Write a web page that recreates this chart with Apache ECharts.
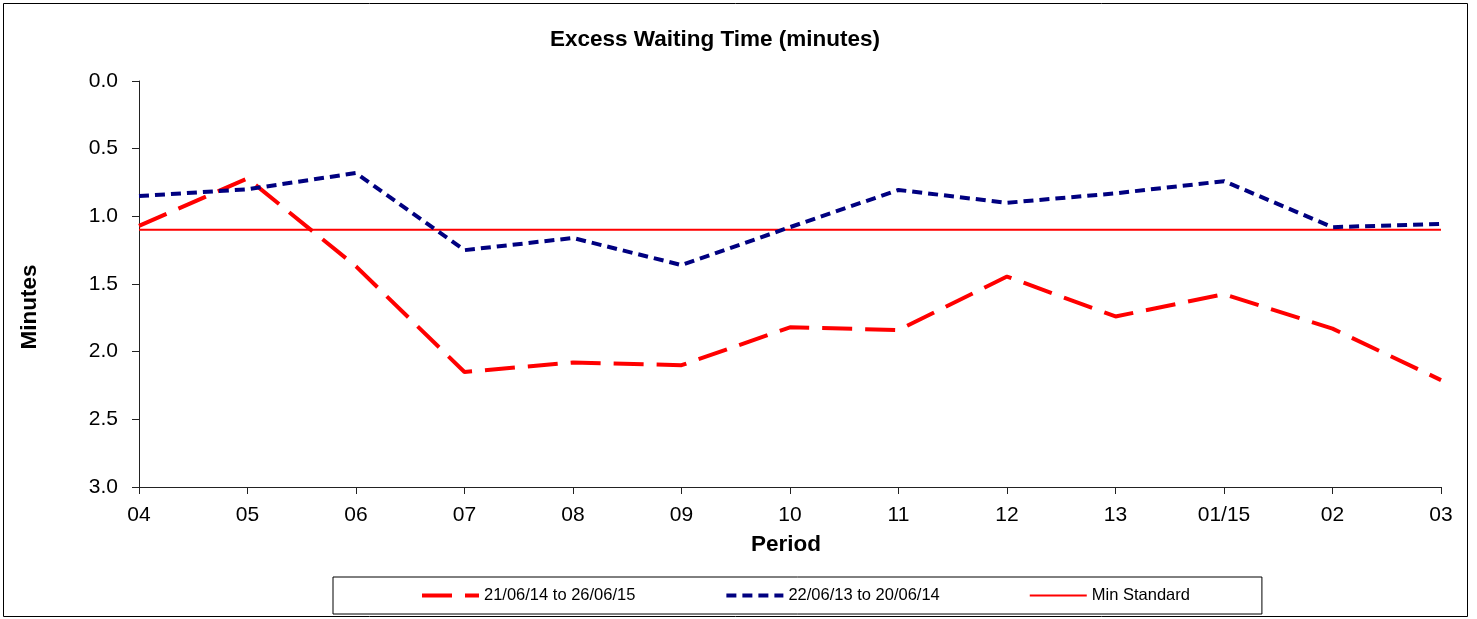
<!DOCTYPE html>
<html>
<head>
<meta charset="utf-8">
<script src="https://cdn.jsdelivr.net/npm/echarts@6/dist/echarts.min.js"></script>
<style>
html,body{margin:0;padding:0;background:#fff;}
#chart{width:1477px;height:619px;}
</style>
</head>
<body>
<div id="chart"></div>
<script>
var categories = ['04','05','06','07','08','09','10','11','12','13','01/15','02','03'];
var series2015 = [1.07, 0.72, 1.37, 2.15, 2.08, 2.10, 1.82, 1.84, 1.445, 1.74, 1.575, 1.83, 2.21];
var series2014 = [0.85, 0.80, 0.68, 1.25, 1.16, 1.36, 1.08, 0.805, 0.90, 0.83, 0.74, 1.08, 1.056];
var minStandard = [1.1, 1.1, 1.1, 1.1, 1.1, 1.1, 1.1, 1.1, 1.1, 1.1, 1.1, 1.1, 1.1];
var seriesNames = ['21/06/14 to 26/06/15', '22/06/13 to 20/06/14', 'Min Standard'];
var yTicks = {min: 0, max: 3, interval: 0.5};

var FONT = '"Liberation Sans", Arial, sans-serif';
var chart = echarts.init(document.getElementById('chart'), null, {renderer: 'canvas'});
chart.setOption({
  animation: false,
  backgroundColor: '#ffffff',
  graphic: [
    {
      type: 'rect',
      shape: {x: 3.5, y: 3.5, width: 1464, height: 613},
      style: {fill: 'none', stroke: '#000', lineWidth: 1},
      silent: true
    },
    {
      type: 'text', x: 715, y: 40, silent: true,
      style: {text: 'Excess Waiting Time (minutes)', fill: '#000',
        font: 'bold 22.5px ' + FONT, textAlign: 'center', textVerticalAlign: 'middle'}
    },
    {
      type: 'text', x: 786, y: 545, silent: true,
      style: {text: 'Period', fill: '#000',
        font: 'bold 22.5px ' + FONT, textAlign: 'center', textVerticalAlign: 'middle'}
    },
    {
      type: 'text', x: 30, y: 307, rotation: Math.PI / 2, silent: true,
      style: {text: 'Minutes', fill: '#000',
        font: 'bold 22.5px ' + FONT, textAlign: 'center', textVerticalAlign: 'middle'}
    }
  ],
  grid: {left: 139, right: 36, top: 81, bottom: 132, containLabel: false},
  legend: {
    left: 333, top: 577,
    padding: [10, 72, 10, 87],
    borderColor: '#000', borderWidth: 1,
    itemGap: 89, itemWidth: 57, itemHeight: 14,
    itemStyle: {opacity: 0},
    textStyle: {fontFamily: FONT, fontSize: 16.5, color: '#000'},
    data: [
      {name: seriesNames[0], lineStyle: {width: 4}},
      {name: seriesNames[1], lineStyle: {width: 4}},
      {name: seriesNames[2], lineStyle: {width: 2}}
    ]
  },
  xAxis: {
    type: 'category',
    data: categories,
    boundaryGap: false,
    axisLine: {onZero: false, lineStyle: {color: '#222', width: 1}},
    axisTick: {length: 7, lineStyle: {color: '#222'}},
    axisLabel: {fontFamily: FONT, fontSize: 21, color: '#000', margin: 18},
    splitLine: {show: false}
  },
  yAxis: {
    type: 'value',
    inverse: true,
    min: yTicks.min, max: yTicks.max, interval: yTicks.interval,
    axisLine: {show: true, lineStyle: {color: '#222', width: 1}},
    axisTick: {show: true, length: 7, lineStyle: {color: '#222'}},
    axisLabel: {fontFamily: FONT, fontSize: 21, color: '#000', margin: 21,
      formatter: function (v) { return v.toFixed(1); }},
    splitLine: {show: false}
  },
  series: [
    {
      name: seriesNames[0], type: 'line', data: series2015, symbol: 'none',
      lineStyle: {color: '#ff0000', width: 4, type: [30, 13]},
      itemStyle: {color: '#ff0000'}, z: 3
    },
    {
      name: seriesNames[1], type: 'line', data: series2014, symbol: 'none',
      lineStyle: {color: '#000080', width: 4, type: [10, 6]},
      itemStyle: {color: '#000080'}, z: 4
    },
    {
      name: seriesNames[2], type: 'line', data: minStandard, symbol: 'none',
      lineStyle: {color: '#ff0000', width: 2, type: 'solid'},
      itemStyle: {color: '#ff0000'}, z: 2
    }
  ]
});
</script>
</body>
</html>
